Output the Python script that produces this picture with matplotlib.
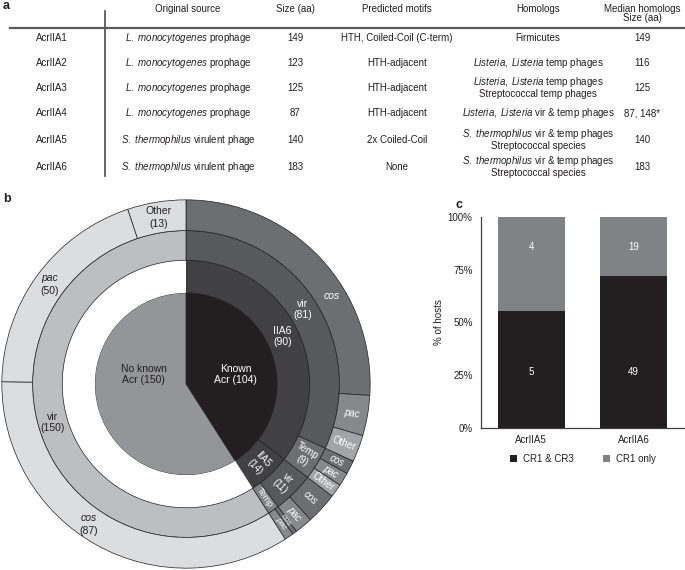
import numpy as np
import matplotlib
matplotlib.use("Agg")
import matplotlib.pyplot as plt
from matplotlib.lines import Line2D
from matplotlib.patches import Patch

plt.rcParams['font.family'] = ['Liberation Sans', 'DejaVu Sans']
plt.rcParams['mathtext.fontset'] = 'custom'
plt.rcParams['mathtext.rm'] = 'Liberation Sans'
plt.rcParams['mathtext.it'] = 'Liberation Sans:italic'

# ---------------- data ----------------
# panel a (table)
acr_names = ['AcrIIA1', 'AcrIIA2', 'AcrIIA3', 'AcrIIA4', 'AcrIIA5', 'AcrIIA6']
sources = [r'$\it{L.\ monocytogenes}$ prophage'] * 4 + [r'$\it{S.\ thermophilus}$ virulent phage'] * 2
sizes_aa = ['149', '123', '125', '87', '140', '183']
motifs = ['HTH, Coiled-Coil (C-term)', 'HTH-adjacent', 'HTH-adjacent', 'HTH-adjacent',
          '2x Coiled-Coil', 'None']
homologs = [
    ['Firmicutes'],
    [r'$\it{Listeria,\ Listeria}$ temp phages'],
    [r'$\it{Listeria,\ Listeria}$ temp phages', 'Streptococcal temp phages'],
    [r'$\it{Listeria,\ Listeria}$ vir & temp phages'],
    [r'$\it{S.\ thermophilus}$ vir & temp phages', 'Streptococcal species'],
    [r'$\it{S.\ thermophilus}$ vir & temp phages', 'Streptococcal species'],
]
median_sizes = ['149', '116', '125', '87, 148*', '140', '183']
headers = ['Original source', 'Size (aa)', 'Predicted motifs', 'Homologs', 'Median homologs\nSize (aa)']

# panel b (sunburst)
ring0_labels = ['Known Acr', 'No known Acr']
ring0_values = [104, 150]
ring1_labels = ['IIA6', 'IIA5', '']
ring1_values = [90, 14, 150]
ring2_labels = ['vir', 'Temp', 'vir', 'Temp', 'vir']
ring2_values = [81, 9, 11, 3, 150]
ring3_labels = ['cos', 'pac', 'Other', 'cos', 'pac', 'Other', 'cos', 'pac', 'cos', 'pac',
                'cos', 'pac', 'Other']
ring3_values = [66, 9, 6, 3, 3, 3, 7, 4, 1, 2, 87, 50, 13]

# panel c (stacked bars)
bar_categories = ['AcrIIA5', 'AcrIIA6']
cr1_cr3 = [5, 49]
cr1_only = [4, 19]
pct_ticks = [0, 25, 50, 75, 100]

# ---------------- figure ----------------
W, H = 685, 570
fig = plt.figure(figsize=(W / 100, H / 100), dpi=100)
TXT = '#231f20'


def P(x, y):
    return (x / W, 1 - y / H)


def ftext(x, y, s, **kw):
    kw.setdefault('fontsize', 7)
    kw.setdefault('color', TXT)
    kw.setdefault('ha', 'center')
    kw.setdefault('va', 'center')
    fig.text(*P(x, y), s, **kw)


# panel labels
ftext(3, 6, 'a', fontsize=9, fontweight='bold', ha='left')
ftext(3, 199, 'b', fontsize=9, fontweight='bold', ha='left')
ftext(455, 205, 'c', fontsize=9, fontweight='bold', ha='left')

# ---- table ----
col_x = [52, 188, 295, 397, 538, 642]
header_y = 9
for cx, h in zip(col_x[1:], headers):
    if '\n' in h:
        l1, l2 = h.split('\n')
        ftext(cx, header_y, l1)
        ftext(cx, header_y + 9, l2)
    else:
        ftext(cx, header_y, h)

fig.add_artist(Line2D([10 / W, 1], [1 - 28 / H] * 2, transform=fig.transFigure,
                      color='#58595b', lw=1.6))
fig.add_artist(Line2D([105 / W] * 2, [1 - 11 / H, 1 - 176 / H], transform=fig.transFigure,
                      color='#58595b', lw=1.3))

row_y = [38, 63, 88, 113, 140, 167]
for i, ry in enumerate(row_y):
    ftext(col_x[0], ry, acr_names[i])
    ftext(col_x[1], ry, sources[i])
    ftext(col_x[2], ry, sizes_aa[i])
    ftext(col_x[3], ry, motifs[i])
    lines = homologs[i]
    if len(lines) == 1:
        ftext(col_x[4], ry, lines[0])
    else:
        ftext(col_x[4], ry - 6, lines[0])
        ftext(col_x[4], ry + 6, lines[1])
    ftext(col_x[5], ry, median_sizes[i])

# ---- sunburst ----
cx_px, cy_px, R_px = 186, 384, 186
axb = fig.add_axes([(cx_px - R_px) / W, 1 - (cy_px + R_px) / H, 2 * R_px / W, 2 * R_px / H])
RADII = [0.495, 0.672, 0.833, 1.0]
EDGE = '#231f20'

c_known, c_noknown = '#231f20', '#939598'
ring0_colors = [c_known, c_noknown]
ring1_colors = ['#414042', '#414042', 'white']
ring2_colors = ['#58595b', '#6d6e71', '#58595b', '#808285', '#bcbec0']
sub_col = {'cos': '#6d6e71', 'pac': '#87888b', 'Other': '#a2a4a7'}
ring3_colors = [sub_col[l] for l in ring3_labels[:10]] + ['#dcddde'] * 3

rings = [(ring0_values, ring0_colors, RADII[0], None),
         (ring1_values, ring1_colors, RADII[1], RADII[1] - RADII[0]),
         (ring2_values, ring2_colors, RADII[2], RADII[2] - RADII[1]),
         (ring3_values, ring3_colors, RADII[3], RADII[3] - RADII[2])]
for vals, cols, r, w in rings:
    wp = dict(edgecolor=EDGE, linewidth=0.5)
    if w is not None:
        wp['width'] = w
    wedges, _ = axb.pie(vals, colors=cols, radius=r, startangle=90, counterclock=False,
                        wedgeprops=wp)
    for wd, c in zip(wedges, cols):
        if c == 'white':
            wd.set_linewidth(0)
axb.set_xlim(-1.01, 1.01)
axb.set_ylim(-1.01, 1.01)
axb.set_aspect('equal')
axb.axis('off')


def mid(vals, i):
    tot = sum(ring0_values)
    start = sum(vals[:i]) / tot * 360
    return start + vals[i] / tot * 180


def polar(theta, r):
    t = np.radians(theta)
    return r * np.sin(t), r * np.cos(t)


def ring_mid(k):
    return (RADII[k - 1] + RADII[k]) / 2


def btext(x, y, s, color='white', size=7, rot=0, style='normal'):
    axb.text(x, y, s, color=color, fontsize=size, rotation=rot, fontstyle=style,
             ha='center', va='center', rotation_mode='anchor', linespacing=1.15)


def radial(vals, i, k, s, size=6.5, style='normal', color='white'):
    th = mid(vals, i)
    x, y = polar(th, ring_mid(k))
    btext(x, y, s, color=color, size=size, rot=90 - th, style=style)


# inner
btext(0.27, 0.05, 'Known\nAcr (104)', size=7.5)
btext(-0.23, 0.05, 'No known\nAcr (150)', color=TXT, size=7.5)
# ring 1
x, y = polar(mid(ring1_values, 0), ring_mid(1))
btext(x, y, 'IIA6\n(90)', size=7.5)
radial(ring1_values, 1, 1, 'IIA5\n(14)', size=7)
# ring 2
x, y = polar(mid(ring2_values, 0), ring_mid(2))
btext(x, y, 'vir\n(81)', size=7.5)
radial(ring2_values, 1, 2, 'Temp\n(9)', size=7)
radial(ring2_values, 2, 2, 'vir\n(11)', size=7)
radial(ring2_values, 3, 2, 'Temp', size=6.5)
x, y = polar(mid(ring2_values, 4), ring_mid(2))
btext(x, y, 'vir\n(150)', color=TXT, size=7.5)
# ring 3
btext(0.79, 0.48, 'cos', style='italic', size=7.5)
for i in range(1, 10):
    lab = ring3_labels[i]
    sz = 7 if i < 8 else 6
    radial(ring3_values, i, 3, lab, size=sz, style='normal' if lab == 'Other' else 'italic')
btext(-0.53, -0.73, 'cos', color=TXT, style='italic', size=7.5)
btext(-0.53, -0.80, '(87)', color=TXT, size=7.5)
x, y = polar(mid(ring3_values, 11), ring_mid(3))
btext(x, y + 0.035, 'pac', color=TXT, style='italic', size=7.5)
btext(x, y - 0.035, '(50)', color=TXT, size=7.5)
x, y = polar(mid(ring3_values, 12), ring_mid(3))
btext(x, y + 0.035, 'Other', color=TXT, size=7.5)
btext(x, y - 0.035, '(13)', color=TXT, size=7.5)

# ---- stacked bars ----
axc = fig.add_axes([481 / W, 1 - 428 / H, 204 / W, 211 / H])
tot = np.array(cr1_cr3) + np.array(cr1_only)
p_both = np.array(cr1_cr3) / tot * 100
p_only = np.array(cr1_only) / tot * 100
xs = np.arange(len(bar_categories))
bw = 0.655
axc.bar(xs, p_both, width=bw, color='#231f20', label='CR1 & CR3')
axc.bar(xs, p_only, width=bw, bottom=p_both, color='#808285', label='CR1 only')
for xi, a, b in zip(xs, cr1_cr3, cr1_only):
    axc.text(xi, 26.5, str(a), color='white', ha='center', va='center', fontsize=7)
    axc.text(xi, 86, str(b), color='white', ha='center', va='center', fontsize=7)
axc.set_xlim(-0.49, 1.5)
axc.set_ylim(0, 100)
axc.set_yticks(pct_ticks)
axc.set_yticklabels([f'{t}%' for t in pct_ticks])
axc.set_xticks(xs)
axc.set_xticklabels(bar_categories)
axc.tick_params(length=0, labelsize=7, labelcolor=TXT, pad=6)
axc.tick_params(axis='x', pad=5)
for s in ['top', 'right']:
    axc.spines[s].set_visible(False)
for s in ['left', 'bottom']:
    axc.spines[s].set_color('#414042')
    axc.spines[s].set_linewidth(0.9)
axc.set_ylabel('% of hosts', fontsize=7, color=TXT, labelpad=3)
handles = [Patch(facecolor='#231f20', edgecolor='none', label='CR1 & CR3'),
           Patch(facecolor='#808285', edgecolor='none', label='CR1 only')]
axc.legend(handles=handles, loc='center', bbox_to_anchor=(0.5, -0.148), ncol=2,
           frameon=False, fontsize=7, handlelength=0.75, handleheight=0.75,
           handletextpad=0.6, columnspacing=3.0, labelcolor=TXT)

fig.savefig('out.png', dpi=100)
